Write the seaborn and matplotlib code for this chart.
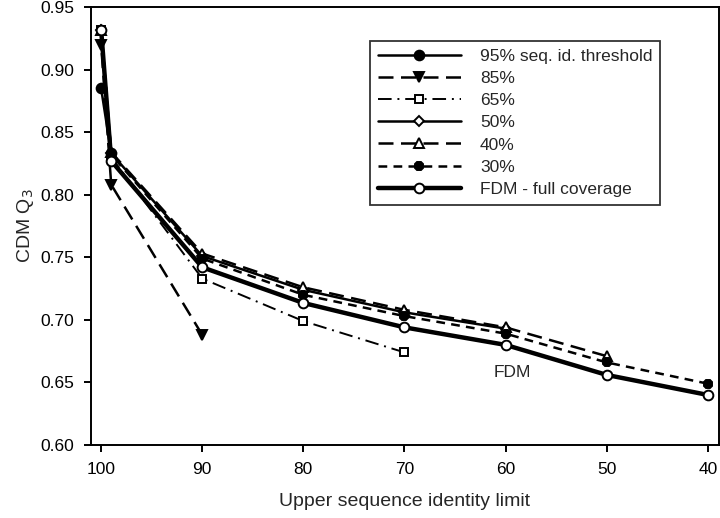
import pandas as pd
import matplotlib
matplotlib.use('Agg')
import matplotlib.pyplot as plt
import seaborn as sns

# Upper sequence identity limit (x) and CDM Q3 for each threshold
limits = [100, 99, 90, 80, 70, 60, 50, 40]
q95 = [0.885, 0.833]
q85 = [0.920, 0.808, 0.688]
q65 = [0.932, 0.830, 0.733, 0.699, 0.674]
q50 = [0.932, 0.833, 0.751, 0.724, 0.706, 0.693]
q40 = [0.932, 0.834, 0.753, 0.726, 0.708, 0.694, 0.671]
q30 = [0.932, 0.832, 0.749, 0.720, 0.703, 0.689, 0.666, 0.649]
fdm = [0.932, 0.827, 0.742, 0.7135, 0.694, 0.680, 0.656, 0.640]

labels = ['95% seq. id. threshold', '85%', '65%', '50%', '40%', '30%', 'FDM - full coverage']
series = [q95, q85, q65, q50, q40, q30, fdm]

sns.set_style('ticks')
plt.rcParams['font.family'] = ['Liberation Sans', 'DejaVu Sans']

# estilo de cada serie: linea, marcador, relleno, grosor
estilos = [
    dict(linestyle='-', marker='o', markerfacecolor='black', linewidth=1.8, markersize=7),
    dict(linestyle=(0, (6, 3)), marker='v', markerfacecolor='black', linewidth=1.8, markersize=7),
    dict(linestyle=(0, (7, 3, 1, 3)), marker='s', markerfacecolor='white', linewidth=1.4, markersize=6),
    dict(linestyle='-', marker='D', markerfacecolor='white', linewidth=1.8, markersize=5.5),
    dict(linestyle=(0, (6, 3)), marker='^', markerfacecolor='white', linewidth=1.8, markersize=6.5),
    dict(linestyle=(0, (3.5, 2.5)), marker='8', markerfacecolor='black', linewidth=1.8, markersize=7),
    dict(linestyle='-', marker='o', markerfacecolor='white', linewidth=3.2, markersize=7),
]

fig = plt.figure(figsize=(7.2, 5.18), dpi=100)
ax = fig.add_axes([0.1264, 0.1409, 0.8722, 0.8456])

for i, (lab, vals, st) in enumerate(zip(labels, series, estilos)):
    df = pd.DataFrame({'limit': limits[:len(vals)], 'q3': vals})
    sns.lineplot(data=df, x='limit', y='q3', ax=ax, color='black',
                 markeredgecolor='black', markeredgewidth=1.4,
                 label=lab, zorder=3 + i, **st)

ax.set_xlim(101, 38.9)
ax.set_ylim(0.60, 0.95)
ax.set_xticks([100, 90, 80, 70, 60, 50, 40])
ax.set_yticks([0.60, 0.65, 0.70, 0.75, 0.80, 0.85, 0.90, 0.95])
ax.yaxis.set_major_formatter(matplotlib.ticker.FormatStrFormatter('%.2f'))
ax.tick_params(direction='out', length=5, width=1.4, labelsize=12.5, colors='black', pad=7)
for sp in ax.spines.values():
    sp.set_linewidth(1.4)
    sp.set_color('black')

ax.set_xlabel('Upper sequence identity limit', fontsize=14, labelpad=12)
ax.set_ylabel('CDM Q$_3$', fontsize=14, labelpad=3)

ax.text(59.3, 0.658, 'FDM', fontsize=12.5, ha='center', va='center')

leg = ax.legend(loc='upper left', bbox_to_anchor=(0.444, 0.922), fontsize=12.5,
                handlelength=4.8, frameon=True, fancybox=False, borderpad=0.45,
                labelspacing=0.4, handletextpad=1.1, borderaxespad=0)
leg.get_frame().set_edgecolor('black')
leg.get_frame().set_linewidth(1.3)

fig.savefig('out.png', dpi=100)
